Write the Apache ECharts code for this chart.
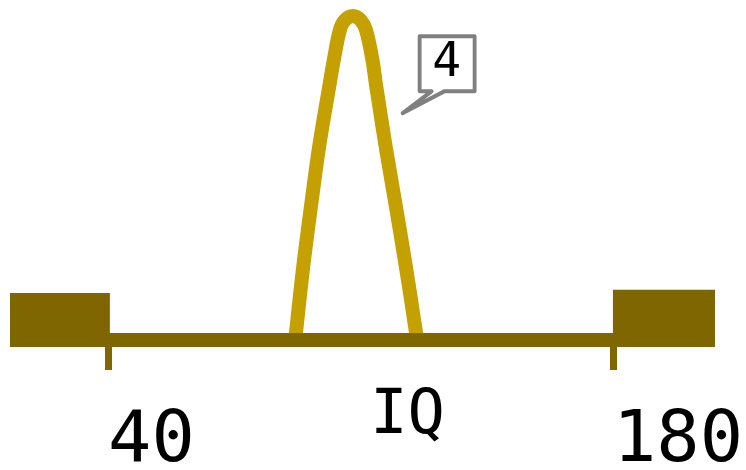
<!DOCTYPE html>
<html>
<head>
<meta charset="utf-8">
<style>
  html, body { margin: 0; padding: 0; background: #ffffff; }
  #chart { width: 746px; height: 470px; }
</style>
<script src="https://cdn.jsdelivr.net/npm/echarts@6/dist/echarts.min.js"></script>
</head>
<body>
<div id="chart"></div>
<script>
// IQ distribution curve
const curveX = [91.9, 94.1, 96.5, 98.5, 101.4, 102.6, 104.3, 105.7, 107.9, 110.0, 111.5, 113.3, 114.3, 117.0, 119.5, 122.6, 125.7];
const curveY = [0, 0.90, 1.73, 2.38, 3.15, 3.46, 3.83, 3.95, 4.0, 3.95, 3.83, 3.46, 3.15, 2.38, 1.73, 0.90, 0];

// shaded tails at both ends of the scale
const tailStart = [12.8, 180];
const tailEnd = [40.5, 208.6];
const tailHeight = [0.58, 0.62];

// labelled axis ticks
const tickValues = [40, 180];
const axisRange = [12.8, 208.3];

// callout showing the peak value, pointing at this spot
const calloutAnchor = [121.4, 2.8];
const peakValue = Math.max(...curveY);

const AXIS_COLOR = '#806600';
const CURVE_COLOR = '#C4A000';
const CALLOUT_GRAY = '#808080';
const FONT = 'DejaVu Sans Mono';

// speech-bubble outline: box on top, pointer tip at the bottom-left corner
const BUBBLE_PATH = 'path://M17,0 L72,0 L72,55 L42,55 L0,77 L29,55 L17,55 Z';
const BUBBLE_SIZE = [72, 77];

const chart = echarts.init(document.getElementById('chart'));

const curveData = curveX.map((x, i) => [x, curveY[i]]);
const tailAreas = tailStart.map((s, i) => [
  { coord: [s, 0] },
  { coord: [tailEnd[i], tailHeight[i]] }
]);

chart.setOption({
  animation: false,
  grid: {
    left: 10, right: 31, top: 16, bottom: 130,
    containLabel: false,
    outerBoundsMode: 'none'
  },
  xAxis: {
    type: 'value',
    min: axisRange[0],
    max: axisRange[1],
    z: 5,
    name: 'IQ',
    nameLocation: 'middle',
    nameGap: 46,
    nameMoveOverlap: false,
    nameTextStyle: {
      fontFamily: FONT,
      fontSize: 62,
      color: '#000000',
      padding: [0, 0, 0, 90]
    },
    axisLine: { show: true, lineStyle: { color: AXIS_COLOR, width: 14, cap: 'butt' } },
    axisTick: {
      show: true,
      customValues: tickValues,
      length: 30,
      lineStyle: { color: AXIS_COLOR, width: 7, cap: 'butt' }
    },
    axisLabel: {
      show: true,
      customValues: tickValues,
      margin: 66,
      align: 'left',
      fontFamily: FONT,
      fontSize: 72,
      color: '#000000'
    },
    splitLine: { show: false }
  },
  yAxis: {
    type: 'value',
    min: 0,
    max: 4,
    show: false
  },
  series: [
    {
      type: 'line',
      data: curveData,
      smooth: 0.35,
      symbol: 'none',
      clip: false,
      lineStyle: { color: CURVE_COLOR, width: 14 },
      markArea: {
        silent: true,
        itemStyle: { color: AXIS_COLOR, opacity: 1 },
        data: tailAreas
      },
      markPoint: {
        silent: true,
        symbol: BUBBLE_PATH,
        symbolSize: BUBBLE_SIZE,
        symbolOffset: [BUBBLE_SIZE[0] / 2 + 1, -BUBBLE_SIZE[1] / 2],
        symbolKeepAspect: false,
        itemStyle: {
          color: '#ffffff',
          borderColor: CALLOUT_GRAY,
          borderWidth: 4,
          borderJoin: 'round',
          opacity: 1
        },
        label: {
          show: true,
          position: 'inside',
          offset: [8, -11],
          formatter: (p) => String(p.value),
          fontFamily: FONT,
          fontSize: 48,
          color: '#000000'
        },
        data: [{ coord: calloutAnchor, value: peakValue }]
      }
    }
  ]
});
</script>
</body>
</html>
